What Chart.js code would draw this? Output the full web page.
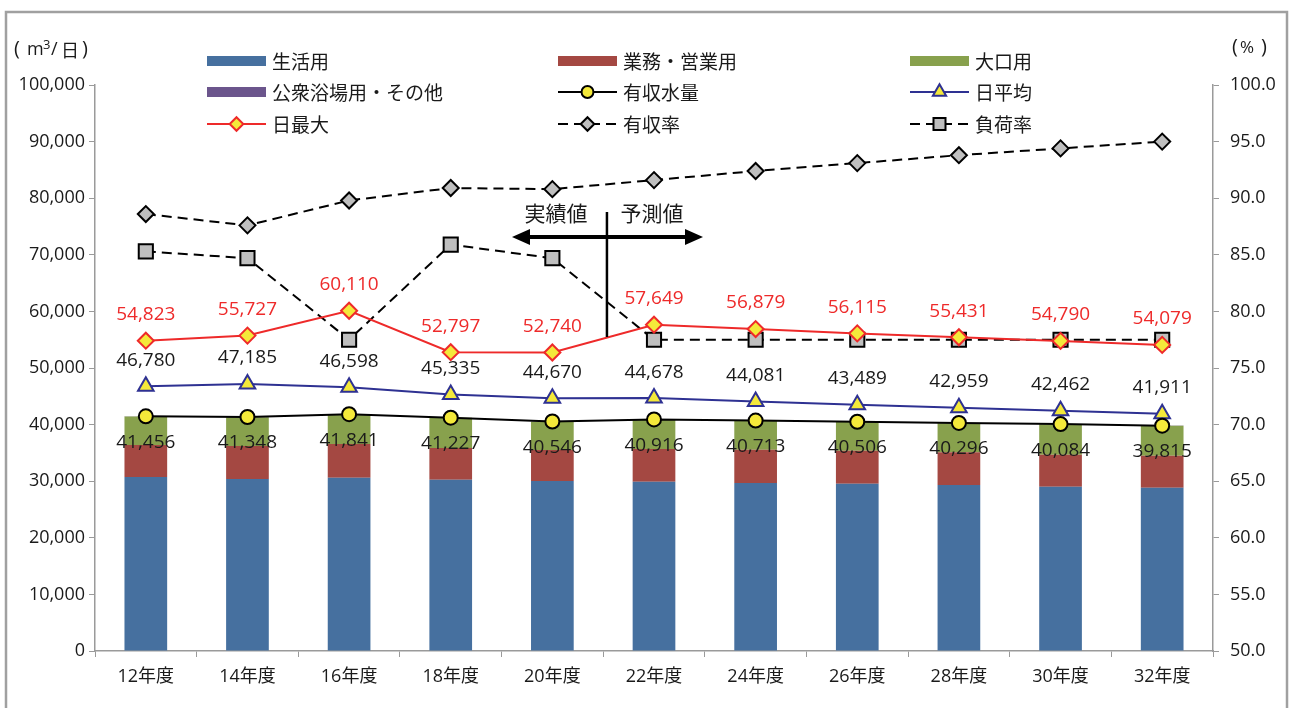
<!DOCTYPE html>
<html>
<head>
<meta charset="utf-8">
<script src="https://cdn.jsdelivr.net/npm/chart.js@4/dist/chart.umd.min.js"></script>
<style>
html,body{margin:0;padding:0;background:#fff;overflow:hidden;}
#wrap{position:relative;width:1295px;height:708px;}
</style>
</head>
<body>
<div id="wrap"><canvas id="c" width="1295" height="708"></canvas></div>
<script>
// ---- data ----
const categories = ['12年度','14年度','16年度','18年度','20年度','22年度','24年度','26年度','28年度','30年度','32年度'];
const seikatsu   = [30740, 30390, 30620, 30270, 30040, 29910, 29680, 29560, 29330, 29030, 28850];
const gyomu      = [5650, 5830, 5950, 5600, 5480, 5780, 5880, 5830, 5780, 5650, 5650];
const oguchi     = [5030, 5090, 5230, 5320, 4990, 5190, 5110, 5080, 5150, 5360, 5280];
const koshu      = [40, 40, 40, 40, 40, 40, 40, 40, 40, 40, 40];
const yushuSuiryo = [41456, 41348, 41841, 41227, 40546, 40916, 40713, 40506, 40296, 40084, 39815];
const nichiHeikin = [46780, 47185, 46598, 45335, 44670, 44678, 44081, 43489, 42959, 42462, 41911];
const nichiSaidai = [54823, 55727, 60110, 52797, 52740, 57649, 56879, 56115, 55431, 54790, 54079];
const yushuRitsu  = [88.6, 87.6, 89.8, 90.9, 90.8, 91.6, 92.4, 93.1, 93.8, 94.4, 95.0];
const fukaRitsu   = [85.3, 84.7, 77.5, 85.9, 84.7, 77.5, 77.5, 77.5, 77.5, 77.5, 77.5];
const leftTicks = { min: 0, max: 100000, step: 10000 };
const rightTicks = { min: 50, max: 100, step: 5 };

const FONT = "'Open Sans','Noto Sans CJK JP',sans-serif";
const JP = "'Noto Sans CJK JP','Open Sans',sans-serif";
const YEL = '#F4E93A';
const GRAY = '#BFBFBF';
const RED = '#EE2A2A';
const NAVY = '#2E3192';
const AXIS = '#9A9A9A';

Chart.defaults.font.family = FONT;
Chart.defaults.font.size = 18;
Chart.defaults.color = '#1a1a1a';

const fmt = v => v.toLocaleString('en-US');

function drawMarker(ctx, style, x, y, r, fill, stroke, lw) {
  ctx.save();
  ctx.fillStyle = fill; ctx.strokeStyle = stroke; ctx.lineWidth = lw; ctx.setLineDash([]);
  ctx.beginPath();
  if (style === 'circle') ctx.arc(x, y, r, 0, Math.PI * 2);
  else if (style === 'triangle') {
    for (let k = 0; k < 3; k++) {
      const a = k * 2 * Math.PI / 3;
      const px = x + Math.sin(a) * r, py = y - Math.cos(a) * r;
      k ? ctx.lineTo(px, py) : ctx.moveTo(px, py);
    }
    ctx.closePath();
  } else if (style === 'rectRot') {
    ctx.moveTo(x, y - r); ctx.lineTo(x + r, y); ctx.lineTo(x, y + r); ctx.lineTo(x - r, y); ctx.closePath();
  } else if (style === 'rect') {
    const s = r * Math.SQRT1_2; ctx.rect(x - s, y - s, 2 * s, 2 * s);
  }
  ctx.fill(); ctx.stroke();
  ctx.restore();
}

const frameAndLegend = {
  id: 'frameAndLegend',
  beforeDraw(chart) {
    const ctx = chart.ctx;
    ctx.save();
    ctx.fillStyle = '#fff'; ctx.fillRect(0, 0, chart.width, chart.height);
    ctx.strokeStyle = '#A0A0A0'; ctx.lineWidth = 2.5;
    ctx.strokeRect(6, 12, 1281, 800);
    ctx.restore();
  },
  afterDraw(chart) {
    const ctx = chart.ctx;
    const ds = chart.data.datasets;
    const order = [0, 1, 2, 3, 4, 5, 6, 7, 8];
    const colX = [207, 558, 910];
    const rowY = [61, 92, 124];
    ctx.save();
    order.forEach((di, k) => {
      const d = ds[di];
      const x0 = colX[k % 3], y = rowY[Math.floor(k / 3)];
      const w = 59;
      if (d.type === 'bar' || !d.type) {
        ctx.fillStyle = d.backgroundColor;
        ctx.fillRect(x0, y - 5, w, 10);
      } else {
        ctx.strokeStyle = d.borderColor; ctx.lineWidth = d.borderWidth;
        ctx.setLineDash(d.borderDash || []);
        ctx.beginPath(); ctx.moveTo(x0, y); ctx.lineTo(x0 + w, y); ctx.stroke();
        drawMarker(ctx, d.pointStyle, x0 + w / 2, y, d.pointRadius * 0.85, d.pointBackgroundColor, d.pointBorderColor, d.pointBorderWidth);
      }
      ctx.setLineDash([]);
      ctx.fillStyle = '#1a1a1a';
      ctx.font = '19px ' + JP;
      ctx.textAlign = 'left'; ctx.textBaseline = 'middle';
      ctx.fillText(d.label, x0 + w + 6, y + 1);
    });
    // axis unit titles
    ctx.textAlign = 'left'; ctx.textBaseline = 'middle';
    const piece = (t, x, y, f) => { ctx.font = f; ctx.fillText(t, x, y); };
    piece('(', 14, 49, '20px ' + FONT);
    piece('m', 27, 50, '18px ' + FONT);
    piece('3', 43, 45, '13px ' + FONT);
    piece('/', 51, 50, '18px ' + FONT);
    piece('日', 61, 50, '18px ' + JP);
    piece(')', 82, 49, '20px ' + FONT);
    piece('(', 1232, 47, '20px ' + FONT);
    piece('%', 1240, 48, '17px ' + FONT);
    piece(')', 1261, 47, '20px ' + FONT);
    ctx.restore();
  }
};

const dataLabels = {
  id: 'dataLabels',
  afterDatasetsDraw(chart) {
    const ctx = chart.ctx;
    ctx.save();
    ctx.font = '19px ' + FONT;
    ctx.textAlign = 'center'; ctx.textBaseline = 'middle';
    chart.data.datasets.forEach((d, di) => {
      if (!d.labelPos) return;
      const meta = chart.getDatasetMeta(di);
      meta.data.forEach((pt, i) => {
        ctx.fillStyle = d.labelColor;
        const dy = d.labelPos === 'above' ? -26 : 26;
        ctx.fillText(fmt(d.data[i]), pt.x, pt.y + dy);
      });
    });
    ctx.restore();
  }
};

const annotation = {
  id: 'annotation',
  afterDatasetsDraw(chart) {
    const ctx = chart.ctx;
    const xs = chart.scales.x, ys = chart.scales.y;
    const vx = xs.getPixelForValue(4.537);
    const yTop = ys.getPixelForValue(77560), yBot = ys.getPixelForValue(55480);
    const ay = ys.getPixelForValue(73150);
    const ax0 = xs.getPixelForValue(3.603), ax1 = xs.getPixelForValue(5.482);
    const ty = ys.getPixelForValue(77390);
    ctx.save();
    ctx.strokeStyle = '#000'; ctx.fillStyle = '#000';
    ctx.lineWidth = 2.5;
    ctx.beginPath(); ctx.moveTo(vx, yTop); ctx.lineTo(vx, yBot); ctx.stroke();
    const hl = 18, hh = 8;
    ctx.lineWidth = 4;
    ctx.beginPath(); ctx.moveTo(ax0 + hl - 2, ay); ctx.lineTo(ax1 - hl + 2, ay); ctx.stroke();
    ctx.beginPath(); ctx.moveTo(ax0, ay); ctx.lineTo(ax0 + hl, ay - hh); ctx.lineTo(ax0 + hl, ay + hh); ctx.closePath(); ctx.fill();
    ctx.beginPath(); ctx.moveTo(ax1, ay); ctx.lineTo(ax1 - hl, ay - hh); ctx.lineTo(ax1 - hl, ay + hh); ctx.closePath(); ctx.fill();
    ctx.font = '21px ' + JP;
    ctx.textAlign = 'center'; ctx.textBaseline = 'middle';
    ctx.fillStyle = '#1a1a1a';
    ctx.fillText('実績値', xs.getPixelForValue(4.036), ty);
    ctx.fillText('予測値', xs.getPixelForValue(4.98), ty);
    ctx.restore();
  }
};

function lineDs(label, data, axis, color, dash, style, radius, fill, border, labelPos, labelColor) {
  return {
    type: 'line', label, data, yAxisID: axis, stack: 'L_' + label,
    borderColor: color, borderWidth: 2, borderDash: dash,
    pointStyle: style, pointRadius: radius, pointHoverRadius: radius,
    pointBackgroundColor: fill, pointBorderColor: border, pointBorderWidth: 2,
    tension: 0, fill: false, order: 0, clip: false,
    labelPos, labelColor
  };
}

const datasets = [
  { type: 'bar', label: '生活用', data: seikatsu, backgroundColor: '#46709F', stack: 'bars', yAxisID: 'y', order: 1 },
  { type: 'bar', label: '業務・営業用', data: gyomu, backgroundColor: '#A44842', stack: 'bars', yAxisID: 'y', order: 1 },
  { type: 'bar', label: '大口用', data: oguchi, backgroundColor: '#88A14D', stack: 'bars', yAxisID: 'y', order: 1 },
  { type: 'bar', label: '公衆浴場用・その他', data: koshu, backgroundColor: '#6B558C', stack: 'bars', yAxisID: 'y', order: 1 },
  lineDs('有収水量', yushuSuiryo, 'y', '#000', [], 'circle', 7, YEL, '#000', 'below', '#1a1a1a'),
  lineDs('日平均', nichiHeikin, 'y', NAVY, [], 'triangle', 9, YEL, NAVY, 'above', '#1a1a1a'),
  lineDs('日最大', nichiSaidai, 'y', RED, [], 'rectRot', 8, YEL, RED, 'above', RED),
  lineDs('有収率', yushuRitsu, 'y1', '#000', [10, 6], 'rectRot', 8, GRAY, '#000', null, null),
  lineDs('負荷率', fukaRitsu, 'y1', '#000', [10, 6], 'rect', 10, GRAY, '#000', null, null)
];

new Chart(document.getElementById('c'), {
  data: { labels: categories, datasets },
  options: {
    responsive: false,
    animation: false,
    devicePixelRatio: 1,
    layout: { padding: { top: 85, left: 0, right: 0, bottom: 0 } },
    plugins: { legend: { display: false }, tooltip: { enabled: false } },
    datasets: { bar: { barPercentage: 0.42, categoryPercentage: 1 } },
    scales: {
      x: {
        stacked: true,
        grid: { drawOnChartArea: false, drawTicks: true, tickLength: 6, color: AXIS, offset: true },
        border: { color: AXIS, width: 1.5 },
        ticks: { padding: 9, font: { size: 18, family: FONT }, color: '#1a1a1a', maxRotation: 0 },
        afterFit(s) { s.height = 57; }
      },
      y: {
        stacked: true, position: 'left',
        min: leftTicks.min, max: leftTicks.max,
        grid: { drawOnChartArea: false, drawTicks: true, tickLength: 6, color: AXIS },
        border: { color: AXIS, width: 1.5 },
        ticks: { stepSize: leftTicks.step, padding: 4, callback: v => fmt(v), font: { size: 18, family: FONT }, color: '#1a1a1a' },
        afterFit(s) { s.width = 95; }
      },
      y1: {
        position: 'right',
        min: rightTicks.min, max: rightTicks.max,
        grid: { drawOnChartArea: false, drawTicks: true, tickLength: 6, color: AXIS },
        border: { color: AXIS, width: 1.5 },
        ticks: { stepSize: rightTicks.step, padding: 11, callback: v => v.toFixed(1), font: { size: 18, family: FONT }, color: '#1a1a1a' },
        afterFit(s) { s.width = 82; }
      }
    }
  },
  plugins: [frameAndLegend, dataLabels, annotation]
});
</script>
</body>
</html>
